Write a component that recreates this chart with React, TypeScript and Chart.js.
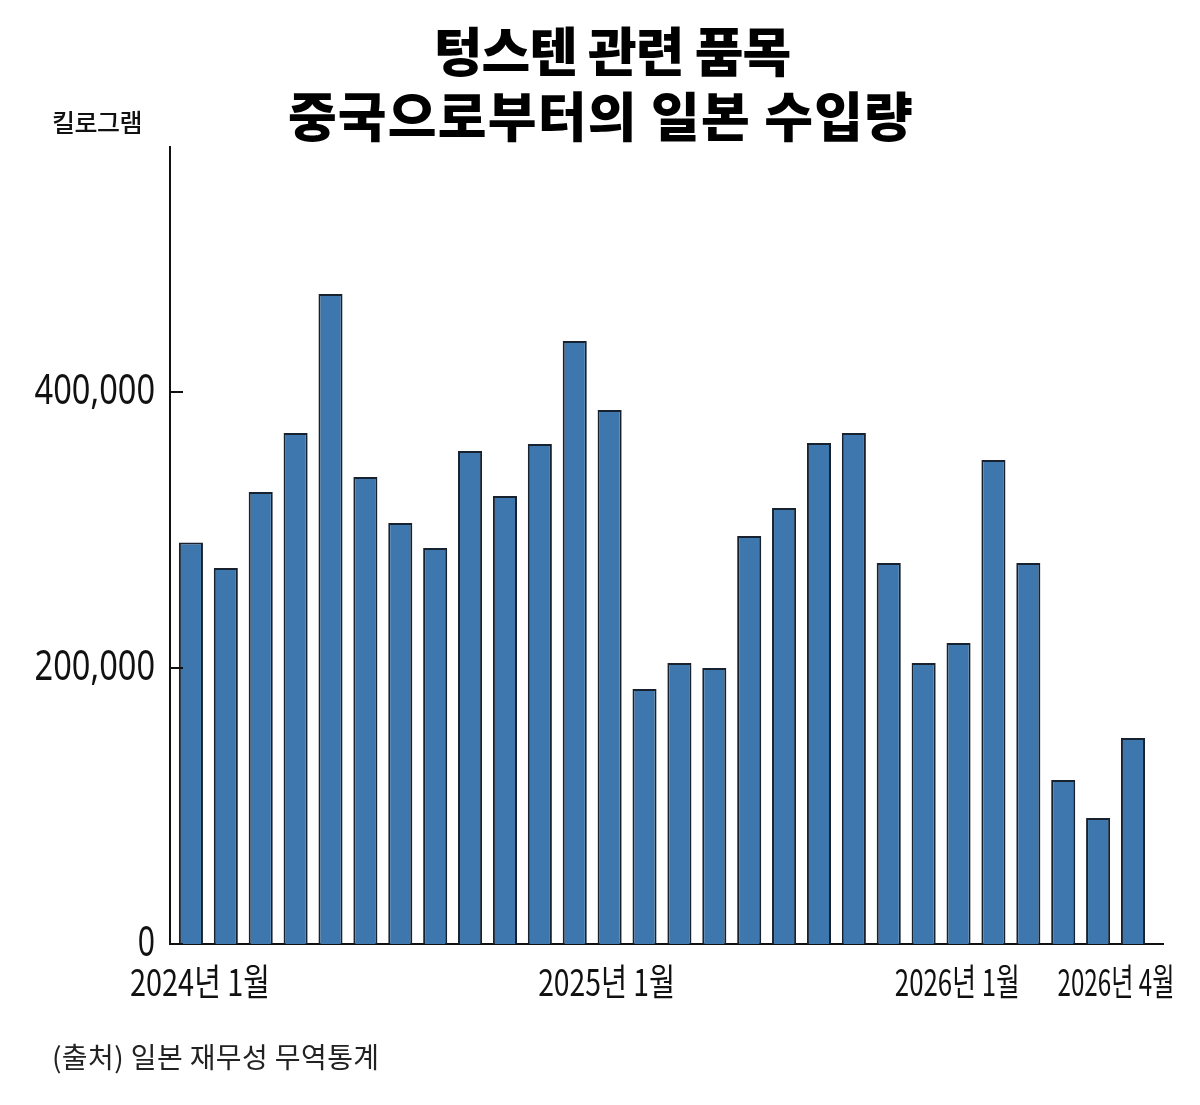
import React, { useEffect, useRef } from 'react';
import { Chart, registerables } from 'chart.js';

Chart.register(...registerables);

// ---- data ----
const months = [
  '2024-01', '2024-02', '2024-03', '2024-04', '2024-05', '2024-06',
  '2024-07', '2024-08', '2024-09', '2024-10', '2024-11', '2024-12',
  '2025-01', '2025-02', '2025-03', '2025-04', '2025-05', '2025-06',
  '2025-07', '2025-08', '2025-09', '2025-10', '2025-11', '2025-12',
  '2026-01', '2026-02', '2026-03', '2026-04',
];
const importsKg = [
  291000, 272500, 327500, 370300, 471000, 338400,
  305100, 287000, 357200, 324600, 362300, 437000,
  387000, 184800, 203600, 200000, 295700, 315900,
  363000, 370300, 276100, 203600, 218100, 350700,
  276100, 118800, 91300, 149300,
];
const yTickValues = [0, 200000, 400000];
const xLabelIndices = [0, 12, 24, 27];
const xLabelTexts = ['2024년 1월', '2025년 1월', '2026년 1월', '2026년 4월'];
const titleLines = ['텅스텐 관련 품목', '중국으로부터의 일본 수입량'];
const unitLabel = '킬로그램';
const sourceNote = '(출처) 일본 재무성 무역통계';

// ---- style constants ----
const LABEL_SHIFT = [9, -3, -71, -17];
const LABEL_MAX_W = [140, 137, 125, 117];
const Y_CHAR_W = 17.2;
const BAR_FILL = '#3e77ad';
const BAR_EDGE = '#18222e';
const INK = '#111111';

const fmt = (v: number) => v.toLocaleString('en-US');

const axisDecor = {
  id: 'axisDecor',
  afterDraw(chart: any) {
    const { ctx, chartArea, scales } = chart;
    const ys = scales.y;
    const xs = scales.x;
    ctx.save();
    // inward tick marks on the value axis
    ctx.strokeStyle = INK;
    ctx.lineWidth = 2;
    yTickValues.forEach((v) => {
      const py = Math.round(ys.getPixelForValue(v));
      ctx.beginPath();
      ctx.moveTo(chartArea.left, py);
      ctx.lineTo(chartArea.left + 13, py);
      ctx.stroke();
    });
    ctx.fillStyle = INK;
    // value-axis labels (condensed)
    ctx.font = "42px 'Noto Sans', sans-serif";
    ctx.textAlign = 'right';
    ctx.textBaseline = 'middle';
    yTickValues.forEach((v) => {
      const t = fmt(v);
      const py = ys.getPixelForValue(v);
      ctx.fillText(t, chartArea.left - 15, py, t.length * Y_CHAR_W);
    });
    // month labels
    ctx.font = "37px 'Liberation Sans Narrow', 'Noto Sans CJK KR', sans-serif";
    ctx.textAlign = 'center';
    xLabelIndices.forEach((idx, k) => {
      const px = xs.getPixelForValue(idx) + LABEL_SHIFT[k];
      ctx.fillText(xLabelTexts[k], px, chartArea.bottom + 38, LABEL_MAX_W[k]);
    });
    ctx.restore();
  },
};

export default function App() {
  const canvasRef = useRef<HTMLCanvasElement | null>(null);

  useEffect(() => {
    document.body.style.margin = '0';
    const canvas = canvasRef.current;
    if (!canvas) return;
    const chart = new Chart(canvas, {
      type: 'bar',
      data: {
        labels: months,
        datasets: [
          {
            label: '수입량',
            data: importsKg.map((v, i) => ({ x: i, y: v })) as any,
            backgroundColor: BAR_FILL,
            borderColor: BAR_EDGE,
            borderWidth: 2,
            barPercentage: 0.69,
            categoryPercentage: 1,
          },
        ],
      },
      options: {
        responsive: false,
        animation: false,
        devicePixelRatio: 1,
        layout: { padding: { left: 0, right: 37, top: 147, bottom: 0 } },
        plugins: {
          legend: { display: false },
          tooltip: { enabled: false },
          title: { display: false },
        },
        scales: {
          x: {
            type: 'linear',
            min: -0.6,
            max: 27.86,
            offset: false,
            z: 1,
            ticks: { display: false },
            grid: { display: false, drawTicks: false },
            border: { display: true, color: INK, width: 2 },
            afterFit: (s: any) => {
              s.height = 161;
            },
          },
          y: {
            type: 'linear',
            min: 0,
            max: 577500,
            z: 1,
            afterBuildTicks: (s: any) => {
              s.ticks = yTickValues.map((v) => ({ value: v }));
            },
            ticks: { display: false },
            grid: { display: false, drawTicks: false },
            border: { display: true, color: INK, width: 2 },
            afterFit: (s: any) => {
              s.width = 170;
            },
          },
        },
      },
      plugins: [axisDecor],
    });
    return () => chart.destroy();
  }, []);

  const kr = "'Noto Sans CJK KR', 'Noto Sans', sans-serif";
  const lineStyle = (center: number, top: number, spacing: number): React.CSSProperties => ({
    position: 'absolute',
    left: center - 600,
    top,
    width: 1200,
    textAlign: 'center',
    fontFamily: kr,
    fontWeight: 900,
    fontSize: 53,
    lineHeight: '53px',
    letterSpacing: `${spacing}px`,
    color: '#000',
    whiteSpace: 'nowrap',
  });

  return (
    <div style={{ position: 'relative', width: 1200, height: 1105, background: '#fff', overflow: 'hidden' }}>
      <canvas ref={canvasRef} width={1200} height={1105} style={{ display: 'block', position: 'absolute', left: 0, top: 0 }} />
      <div style={lineStyle(612, 23, -1)}>{titleLines[0]}</div>
      <div style={lineStyle(601, 88, 1.2)}>{titleLines[1]}</div>
      <div
        style={{
          position: 'absolute',
          left: 52,
          top: 109,
          fontFamily: kr,
          fontWeight: 500,
          fontSize: 25,
          lineHeight: '25px',
          letterSpacing: '-0.5px',
          color: INK,
          whiteSpace: 'nowrap',
        }}
      >
        {unitLabel}
      </div>
      <div
        style={{
          position: 'absolute',
          left: 52,
          top: 1042,
          fontFamily: kr,
          fontWeight: 400,
          fontSize: 28,
          lineHeight: '28px',
          letterSpacing: '0.4px',
          color: '#222',
          whiteSpace: 'nowrap',
        }}
      >
        {sourceNote}
      </div>
    </div>
  );
}
